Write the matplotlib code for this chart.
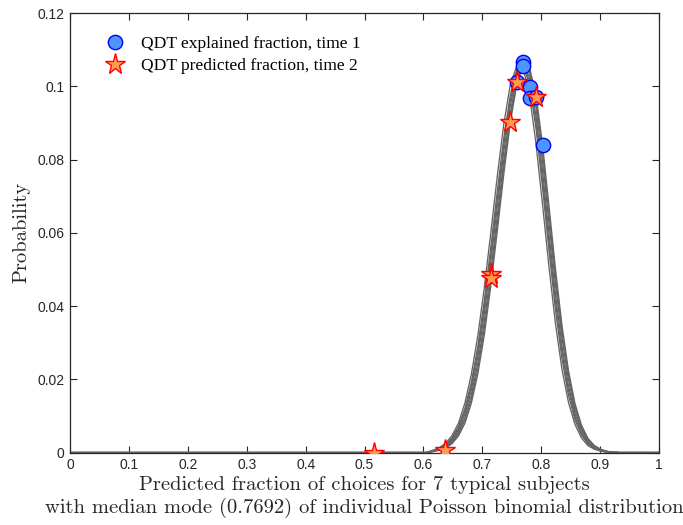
import numpy as np
import matplotlib
matplotlib.use('Agg')
import matplotlib.pyplot as plt

# number of choices per subject; curve points sit at k / n_trials
n_trials = 91
k_start = 56  # first k with visible probability, everything below is ~0

# Poisson binomial distributions of the 7 subjects, k = 56 .. 84
curves = [
    [0.0006, 0.0013, 0.0025, 0.0046, 0.0080, 0.0135, 0.0214, 0.0319, 0.0450, 0.0600,
     0.0754, 0.0896, 0.1003, 0.1055, 0.1050, 0.0974, 0.0841, 0.0676, 0.0505, 0.0351,
     0.0227, 0.0137, 0.0077, 0.0040, 0.0019, 0.0009, 0.0004, 0.0001, 0.0000],
    [0.0005, 0.0011, 0.0021, 0.0040, 0.0071, 0.0120, 0.0192, 0.0290, 0.0415, 0.0560,
     0.0713, 0.0858, 0.0974, 0.1046, 0.1058, 0.1003, 0.0883, 0.0723, 0.0550, 0.0389,
     0.0256, 0.0157, 0.0089, 0.0048, 0.0023, 0.0011, 0.0004, 0.0001, 0.0000],
    [0.0004, 0.0010, 0.0020, 0.0037, 0.0066, 0.0112, 0.0182, 0.0276, 0.0398, 0.0540,
     0.0692, 0.0840, 0.0960, 0.1038, 0.1060, 0.1013, 0.0900, 0.0745, 0.0573, 0.0410,
     0.0273, 0.0170, 0.0098, 0.0053, 0.0026, 0.0012, 0.0005, 0.0002, 0.0000],
    [0.0004, 0.0009, 0.0018, 0.0034, 0.0061, 0.0105, 0.0171, 0.0262, 0.0380, 0.0520,
     0.0672, 0.0821, 0.0946, 0.1030, 0.1066, 0.1023, 0.0918, 0.0767, 0.0596, 0.0431,
     0.0290, 0.0182, 0.0106, 0.0058, 0.0029, 0.0014, 0.0006, 0.0002, 0.0001],
    [0.0003, 0.0008, 0.0016, 0.0030, 0.0055, 0.0095, 0.0157, 0.0243, 0.0357, 0.0493,
     0.0645, 0.0796, 0.0927, 0.1019, 0.1061, 0.1036, 0.0941, 0.0796, 0.0627, 0.0459,
     0.0313, 0.0199, 0.0117, 0.0065, 0.0033, 0.0016, 0.0007, 0.0002, 0.0001],
    [0.0003, 0.0007, 0.0014, 0.0027, 0.0050, 0.0088, 0.0146, 0.0229, 0.0339, 0.0474,
     0.0624, 0.0778, 0.0913, 0.1012, 0.1058, 0.1043, 0.0958, 0.0818, 0.0650, 0.0480,
     0.0330, 0.0212, 0.0126, 0.0070, 0.0036, 0.0018, 0.0008, 0.0003, 0.0001],
    [0.0002, 0.0006, 0.0012, 0.0024, 0.0045, 0.0080, 0.0135, 0.0215, 0.0321, 0.0454,
     0.0604, 0.0759, 0.0899, 0.1004, 0.1056, 0.1050, 0.0976, 0.0840, 0.0672, 0.0500,
     0.0347, 0.0224, 0.0134, 0.0075, 0.0039, 0.0019, 0.0009, 0.0003, 0.0001],
]

# explained fraction at time 1 (circles) and predicted fraction at time 2 (stars)
expl_x = [0.7692, 0.7692, 0.7582, 0.7802, 0.7802, 0.7912, 0.8022]
expl_y = [0.1066, 0.1055, 0.1012, 0.0998, 0.0968, 0.0972, 0.0839]
pred_x = [0.7582, 0.7912, 0.7473, 0.7143, 0.7143, 0.6374, 0.5165]
pred_y = [0.1012, 0.0972, 0.0902, 0.0488, 0.0476, 0.0008, 0.0000]

xlabel = ('Predicted fraction of choices for 7 typical subjects\n'
          'with median mode (0.7692) of individual Poisson binomial distribution')

fig = plt.figure(figsize=(6.83, 5.25), dpi=100)
ax = fig.add_axes([0.1025, 0.138, 0.8625, 0.837])

k_all = np.arange(0, n_trials + 1)
for c in curves:
    y = np.zeros(len(k_all))
    y[k_start:k_start + len(c)] = c
    ax.plot(k_all / n_trials, y, color='#646464', lw=0.95, zorder=2)

ax.plot(expl_x, expl_y, 'o', ms=10.3, mfc='#4f94ff', mec='#0000ff', mew=1.0,
        label='QDT explained fraction, time 1', zorder=3)
ax.plot(pred_x, pred_y, '*', ms=15.5, mfc='#ff9a50', mec='#ff0000', mew=1.0,
        label='QDT predicted fraction, time 2', zorder=4)

ax.set_xlim(0, 1)
ax.set_ylim(0, 0.12)
ax.set_xticks(np.arange(0, 1.01, 0.1))
ax.set_xticklabels(['0', '0.1', '0.2', '0.3', '0.4', '0.5', '0.6', '0.7', '0.8', '0.9', '1'])
ax.set_yticks([0, 0.02, 0.04, 0.06, 0.08, 0.1, 0.12])
ax.set_yticklabels(['0', '0.02', '0.04', '0.06', '0.08', '0.1', '0.12'])
ax.tick_params(direction='in', length=5, width=0.8, top=True, right=True,
               labelsize=10, colors='#262626', pad=4)
for lab in ax.get_xticklabels() + ax.get_yticklabels():
    lab.set_fontfamily('Liberation Sans')
for s in ax.spines.values():
    s.set_color('#262626')
    s.set_linewidth(0.9)

ax.set_xlabel(xlabel, fontfamily='cmr10', fontsize=14.8, color='#262626', labelpad=3,
              linespacing=1.25)
ax.set_ylabel('Probability', fontfamily='cmr10', fontsize=14.8, color='#262626', labelpad=5)

leg = ax.legend(loc='upper left', bbox_to_anchor=(0.035, 0.976), frameon=False,
                prop={'family': 'Liberation Serif', 'size': 12.6},
                handletextpad=0.8, labelspacing=0.3, borderaxespad=0.3,
                handlelength=1.4)

fig.savefig('out.png', dpi=100)
